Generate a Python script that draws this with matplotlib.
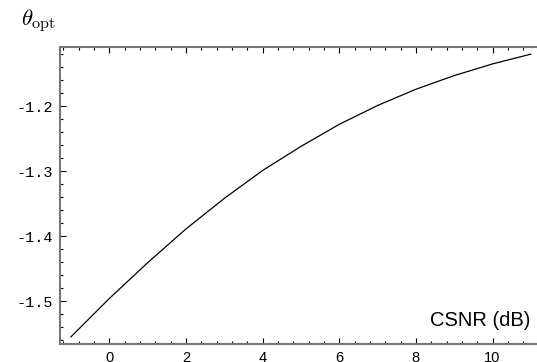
import numpy as np
import matplotlib
matplotlib.use("Agg")
import matplotlib.pyplot as plt
from matplotlib.ticker import MultipleLocator

plt.rcParams["mathtext.fontset"] = "cm"

csnr_db = [-1, 0, 1, 2, 3, 4, 5, 6, 7, 8, 9, 10, 11]
theta_opt = [-1.555, -1.496, -1.441, -1.389, -1.342, -1.299, -1.262,
             -1.228, -1.199, -1.174, -1.153, -1.135, -1.120]
x_ticks = [0, 2, 4, 6, 8, 10]
y_ticks = [-1.5, -1.4, -1.3, -1.2]
y_tick_labels = ["-1.5", "-1.4", "-1.3", "-1.2"]

fig = plt.figure(figsize=(5.37, 3.62), dpi=100)
ax = fig.add_axes([60 / 537, 18 / 362, 477 / 537, 297 / 362])

ax.plot(csnr_db, theta_opt, color="black", linewidth=0.9)

ax.set_xlim(-1.286, 11.16)
ax.set_ylim(-1.566, -1.109)

ax.set_xticks(x_ticks)
ax.set_yticks(y_ticks)
ax.set_yticklabels(y_tick_labels)
ax.xaxis.set_minor_locator(MultipleLocator(0.4))
ax.yaxis.set_minor_locator(MultipleLocator(0.02))

for lab in ax.get_xticklabels():
    lab.set_fontfamily("Liberation Sans")
    lab.set_fontsize(10.5)
for lab in ax.get_yticklabels():
    lab.set_fontfamily("Liberation Mono")
    lab.set_fontsize(11)

ax.tick_params(which="both", direction="in", top=True, right=False,
               color="black", width=0.8)
ax.tick_params(which="major", length=4, pad=5)
ax.tick_params(which="minor", length=2)

for side in ["left", "bottom", "top"]:
    ax.spines[side].set_color("#777777")
    ax.spines[side].set_linewidth(1.5)
ax.spines["right"].set_visible(False)

ax.text(0.987, 0.061, "CSNR (dB)", transform=ax.transAxes, ha="right",
        va="baseline", fontsize=14.5, family="Liberation Sans")
fig.text(21 / 537, 1 - 26 / 362, r"$\theta_{\rm opt}$", fontsize=16.5,
         ha="left", va="baseline")

fig.savefig("out.png", dpi=100)
